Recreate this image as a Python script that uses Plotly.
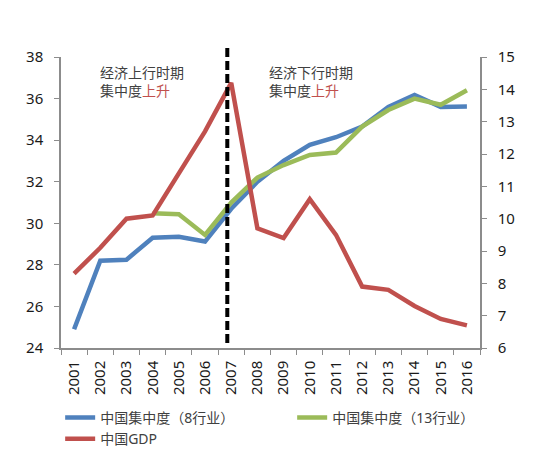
import plotly.graph_objects as go

years = list(range(2001, 2017))
conc8 = [24.9, 28.2, 28.25, 29.3, 29.35, 29.12, 30.7, 32.0, 33.0, 33.77, 34.14, 34.65, 35.6, 36.17, 35.6, 35.62]
years13 = list(range(2004, 2017))
conc13 = [30.48, 30.44, 29.44, 31.0, 32.2, 32.8, 33.29, 33.4, 34.65, 35.45, 36.0, 35.7, 36.4]
gdp = [8.3, 9.1, 10.0, 10.1, 11.4, 12.7, 14.2, 9.7, 9.4, 10.6, 9.5, 7.9, 7.8, 7.3, 6.9, 6.7]

names = ["中国集中度（8行业）", "中国集中度（13行业）", "中国GDP"]
colors = ["#4f81bd", "#9bbb59", "#c0504d"]
split_year = 2006.85

FONT = "Noto Sans, Noto Sans CJK SC, sans-serif"
TXT = "#1a1a1a"

fig = go.Figure()
fig.add_trace(go.Scatter(x=years, y=conc8, name=names[0], mode="lines",
                         line=dict(color=colors[0], width=4.5)))
fig.add_trace(go.Scatter(x=years13, y=conc13, name=names[1], mode="lines",
                         line=dict(color=colors[1], width=4.5)))
fig.add_trace(go.Scatter(x=years, y=gdp, name=names[2], mode="lines", yaxis="y2",
                         line=dict(color=colors[2], width=4.5)))

fig.add_shape(type="line", xref="x", yref="paper", x0=split_year, x1=split_year,
              y0=0.017, y1=1.041, line=dict(color="black", width=4, dash="9px,4px"))

fig.add_annotation(xref="paper", yref="paper", x=0.088, y=0.985, xanchor="left", yanchor="top",
                   align="left", showarrow=False,
                   text="经济上行时期<br>集中度<span style='color:#c0504d'>上升</span>",
                   font=dict(size=14, color="#404040", family=FONT))
fig.add_annotation(xref="paper", yref="paper", x=0.492, y=0.985, xanchor="left", yanchor="top",
                   align="left", showarrow=False,
                   text="经济下行时期<br>集中度<span style='color:#c0504d'>上升</span>",
                   font=dict(size=14, color="#404040", family=FONT))

axis_common = dict(showgrid=False, zeroline=False, showline=True, linecolor="#8c8c8c",
                   linewidth=1.5, ticks="outside", ticklen=5, tickcolor="#8c8c8c",
                   ticklabelstandoff=8,
                   tickfont=dict(size=15, color=TXT, family=FONT))

# the page body adds an 8px offset, so the figure is 8px smaller on each side
fig.update_layout(
    width=542, height=449,
    margin=dict(l=53, r=70, t=49, b=109, autoexpand=False),
    paper_bgcolor="white", plot_bgcolor="white",
    font=dict(family=FONT, color=TXT),
    showlegend=True,
    xaxis=dict(range=[2000.5, 2016.5], tickmode="array", tickvals=years,
               ticktext=[str(y) for y in years], tickangle=-90,
               showgrid=False, zeroline=False, showline=True, linecolor="#8c8c8c",
               linewidth=1.5, ticks="", ticklabelstandoff=5,
               tickfont=dict(size=15, color=TXT, family=FONT),
               minor=dict(tickvals=[y + 0.5 for y in range(2000, 2017)], ticks="outside",
                          ticklen=5, tickcolor="#8c8c8c", showgrid=False)),
    yaxis=dict(range=[24, 38], dtick=2, **axis_common),
    yaxis2=dict(range=[6, 15], dtick=1, overlaying="y", side="right", **axis_common),
    legend=dict(orientation="h", x=-0.002, y=-0.185, xanchor="left", yanchor="top",
                entrywidth=187, entrywidthmode="pixels",
                font=dict(size=14, color="#404040", family=FONT),
                itemwidth=30, tracegroupgap=0, bgcolor="rgba(0,0,0,0)"),
)

fig.write_html("out.html")
